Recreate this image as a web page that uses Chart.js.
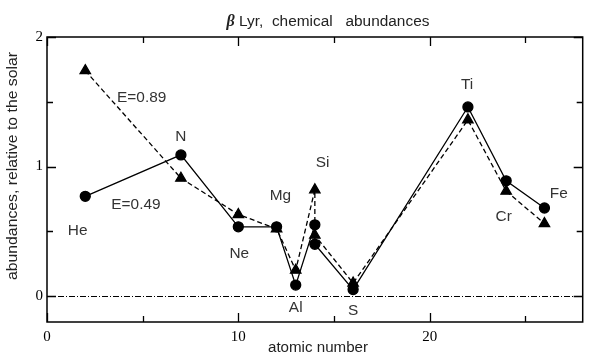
<!DOCTYPE html>
<html>
<head>
<meta charset="utf-8">
<script src="https://cdn.jsdelivr.net/npm/chart.js@4/dist/chart.umd.min.js"></script>
<style>
  html, body { margin: 0; padding: 0; background: #fff; }
  #wrap { width: 590px; height: 356px; position: relative; }
</style>
</head>
<body>
<div id="wrap"><canvas id="chart"></canvas></div>
<script>
// E=0.49 (solid line, circles)
const solidZ = [2, 7, 10, 12, 13, 14, 14, 16, 22, 24, 26];
const solidVal = [0.77, 1.09, 0.535, 0.535, 0.085, 0.55, 0.40, 0.05, 1.46, 0.89, 0.68];
// E=0.89 (dashed line, triangles)
const dashedZ = [2, 7, 10, 12, 13, 14, 14, 16, 22, 24, 26];
const dashedVal = [1.74, 0.91, 0.63, 0.52, 0.20, 0.82, 0.47, 0.10, 1.36, 0.81, 0.56];

// text labels placed in data units
const labelText = ['He', 'N', 'Ne', 'Mg', 'Al', 'Si', 'S', 'Ti', 'Cr', 'Fe', 'E=0.89', 'E=0.49'];
const labelZ = [1.6, 7.0, 10.05, 12.2, 13.0, 14.4, 16.0, 21.96, 23.87, 26.75, 4.95, 4.65];
const labelVal = [0.50, 1.225, 0.32, 0.775, -0.095, 1.03, -0.115, 1.63, 0.61, 0.79, 1.53, 0.705];

const xTicks = [0, 5, 10, 15, 20, 25];
const yTicks = [0, 0.5, 1, 1.5, 2];

const SANS = '"Liberation Sans", Arial, sans-serif';
const SERIF = '"Liberation Serif", "Times New Roman", serif';

function toPoints(xs, ys) {
  return xs.map((x, i) => ({ x, y: ys[i] }));
}

// the original font is wider than Liberation Sans, stretch horizontally
function wideText(ctx, text, x, y, sx) {
  ctx.save();
  ctx.translate(x, y);
  ctx.scale(sx, 1);
  ctx.fillText(text, 0, 0);
  ctx.restore();
}

// frame, inward ticks, zero line, labels and titles
const decorPlugin = {
  id: 'decor',
  beforeDatasetsDraw(chart) {
    const { ctx, chartArea: a, scales: { y } } = chart;
    ctx.save();
    ctx.strokeStyle = '#000';
    ctx.lineWidth = 1;
    ctx.setLineDash([6, 2, 1, 2]);
    const y0 = Math.round(y.getPixelForValue(0)) + 0.5;
    ctx.beginPath();
    ctx.moveTo(a.left, y0);
    ctx.lineTo(a.right, y0);
    ctx.stroke();
    ctx.restore();
  },
  afterDraw(chart) {
    const { ctx, chartArea: a, scales: { x, y } } = chart;
    ctx.save();
    ctx.strokeStyle = '#000';
    ctx.lineWidth = 1.5;
    ctx.setLineDash([]);
    ctx.strokeRect(a.left, a.top, a.right - a.left, a.bottom - a.top);

    ctx.lineWidth = 1.3;
    ctx.beginPath();
    xTicks.forEach(v => {
      const px = Math.round(x.getPixelForValue(v)) + 0.5;
      const len = v % 10 === 0 ? 9 : 6;
      ctx.moveTo(px, a.bottom); ctx.lineTo(px, a.bottom - len);
      ctx.moveTo(px, a.top); ctx.lineTo(px, a.top + len);
    });
    yTicks.forEach(v => {
      const py = Math.round(y.getPixelForValue(v)) + 0.5;
      const len = v % 1 === 0 ? 9 : 6;
      ctx.moveTo(a.left, py); ctx.lineTo(a.left + len, py);
      ctx.moveTo(a.right, py); ctx.lineTo(a.right - len, py);
    });
    ctx.stroke();

    // element labels
    ctx.fillStyle = '#333';
    ctx.font = '14px ' + SANS;
    ctx.textAlign = 'center';
    ctx.textBaseline = 'middle';
    labelText.forEach((t, i) => {
      wideText(ctx, t, x.getPixelForValue(labelZ[i]), y.getPixelForValue(labelVal[i]), 1.1);
    });

    // title
    ctx.fillStyle = '#222';
    const beta = 'β';
    const rest = ' Lyr,  chemical   abundances';
    ctx.font = 'bold italic 16px ' + SERIF;
    const wb = ctx.measureText(beta).width;
    ctx.font = '14px ' + SANS;
    const wr = ctx.measureText(rest).width * 1.1;
    const tx = 328 - (wb + wr) / 2;
    ctx.textAlign = 'left';
    ctx.font = 'bold italic 16px ' + SERIF;
    ctx.fillText(beta, tx, 22);
    ctx.font = '14px ' + SANS;
    wideText(ctx, rest, tx + wb, 22, 1.1);

    // axis titles
    ctx.textAlign = 'center';
    ctx.font = '14px ' + SANS;
    wideText(ctx, 'atomic number', 318, 348, 1.08);
    ctx.translate(13, 166);
    ctx.rotate(-Math.PI / 2);
    const yt = 'abundances, relative to the solar';
    const sy = 228 / ctx.measureText(yt).width;
    wideText(ctx, yt, 0, 0, sy);
    ctx.restore();
  }
};

function buildChart() {
  const ctx = document.getElementById('chart').getContext('2d');
  return new Chart(ctx, {
    type: 'scatter',
    data: {
      datasets: [
        {
          label: 'E=0.89',
          data: toPoints(dashedZ, dashedVal),
          showLine: true,
          borderColor: '#000',
          backgroundColor: '#000',
          borderWidth: 1.3,
          borderDash: [5, 3],
          pointStyle: 'triangle',
          pointRadius: 6,
          tension: 0
        },
        {
          label: 'E=0.49',
          data: toPoints(solidZ, solidVal),
          showLine: true,
          borderColor: '#000',
          backgroundColor: '#000',
          borderWidth: 1.3,
          pointStyle: 'circle',
          pointRadius: 5,
          tension: 0
        }
      ]
    },
    options: {
      responsive: true,
      maintainAspectRatio: false,
      animation: false,
      layout: { padding: { top: 37, right: -7, left: 0, bottom: 0 } },
      plugins: {
        legend: { display: false },
        tooltip: { enabled: false },
        title: { display: false }
      },
      scales: {
        x: {
          type: 'linear',
          min: 0,
          max: 28,
          border: { display: false },
          grid: { display: false, drawTicks: false },
          afterFit: (s) => { s.height = 34; s.paddingLeft = 0; s.paddingRight = 0; },
          afterBuildTicks: (s) => { s.ticks = xTicks.map(v => ({ value: v })); },
          ticks: {
            padding: 6,
            color: '#000',
            font: { family: SERIF, size: 15 },
            maxRotation: 0,
            callback: (v) => (v % 10 === 0 ? String(v) : '')
          }
        },
        y: {
          type: 'linear',
          min: -0.2,
          max: 2,
          border: { display: false },
          grid: { display: false, drawTicks: false },
          afterFit: (s) => { s.width = 47; s.paddingTop = 0; s.paddingBottom = 0; },
          afterBuildTicks: (s) => { s.ticks = yTicks.map(v => ({ value: v })); },
          ticks: {
            padding: 4,
            color: '#000',
            font: { family: SERIF, size: 15 },
            callback: (v) => (v % 1 === 0 ? String(v) : '')
          }
        }
      }
    },
    plugins: [decorPlugin]
  });
}

document.addEventListener('DOMContentLoaded', buildChart);
</script>
</body>
</html>
